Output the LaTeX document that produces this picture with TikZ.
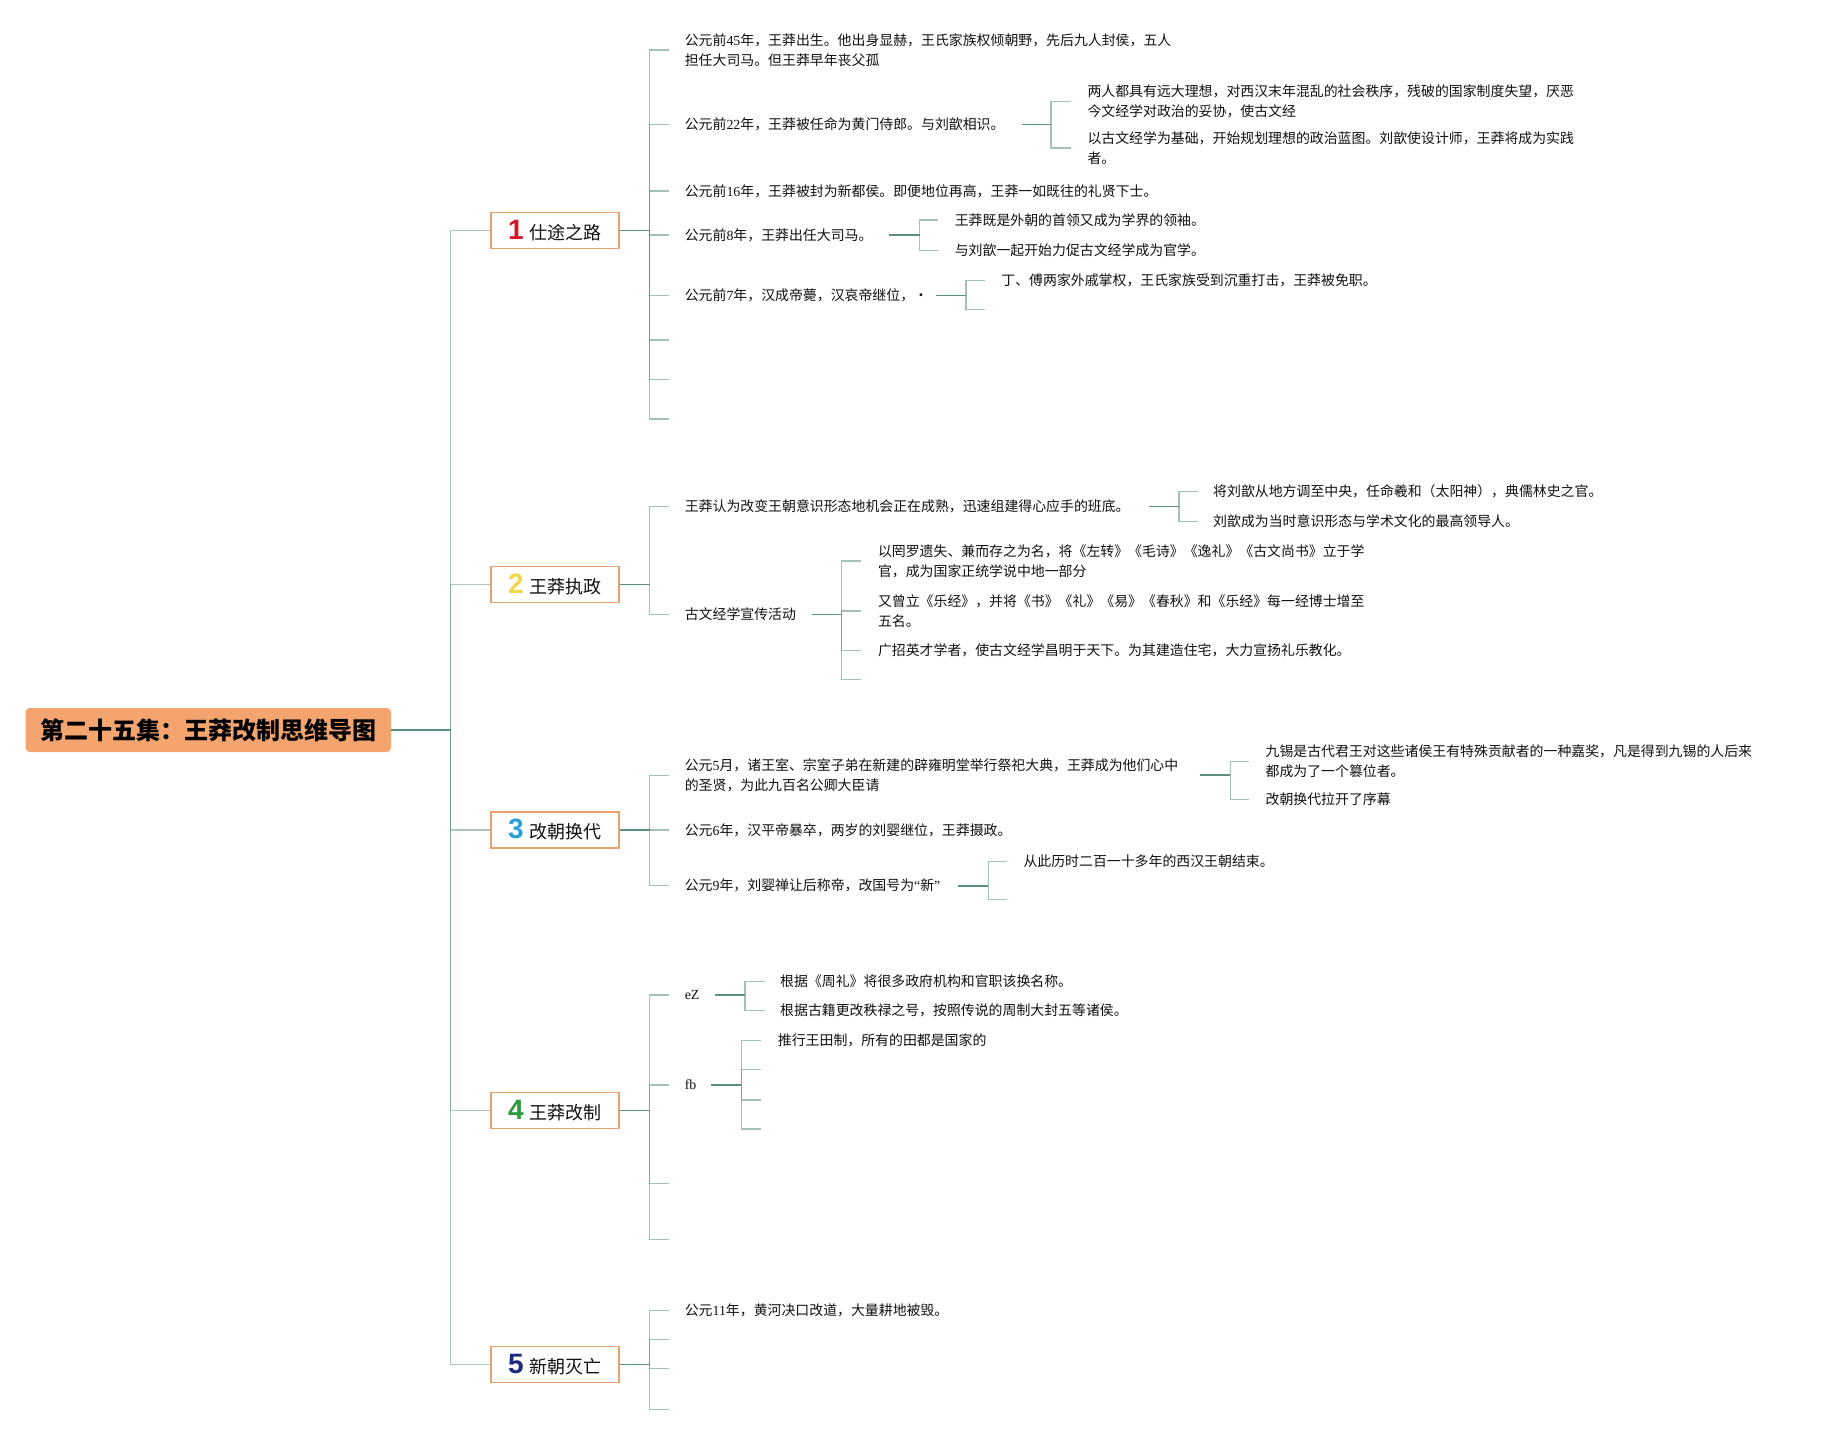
\documentclass[tikz,border=0pt]{standalone}
\usepackage{fontspec}
\setmainfont{Noto Sans CJK SC}
\newfontfamily\latf{Liberation Serif}
\newfontfamily\numf{Liberation Sans}
\newcommand\dg[1]{{\latf #1}}
\newcommand\leaffont{\fontsize{6.95pt}{9.9pt}\selectfont}
\definecolor{linedark}{HTML}{5A8F80}
\definecolor{boxborder}{HTML}{E9A26F}
\definecolor{rootfill}{HTML}{F4A46E}
\definecolor{textc}{HTML}{111111}
\definecolor{nA}{HTML}{D7182A}
\definecolor{nB}{HTML}{F2D64B}
\definecolor{nC}{HTML}{2C9FD9}
\definecolor{nD}{HTML}{2A9A3A}
\definecolor{nE}{HTML}{1E2B7A}
\newcommand\brlabel[3]{\textcolor{#1}{\numf\bfseries\fontsize{14pt}{14pt}\selectfont #2}\hspace{3pt}#3}
\begin{document}
\begin{tikzpicture}[x=0.5pt,y=-0.5pt,
  leaf/.style={anchor=west, align=left, inner sep=0pt, font=\leaffont, text=textc},
  conn/.style={draw=linedark, line width=0.8pt},
  twig/.style={draw=linedark, draw opacity=0.55, line width=0.7pt},
  trunk/.style={draw=linedark, draw opacity=0.5, line width=0.75pt},
  brbox/.style={draw=boxborder, line width=0.7pt, fill=white, minimum width=64pt, minimum height=18pt, inner sep=0pt, font=\fontsize{9pt}{11pt}\selectfont, text=textc},
  rootbox/.style={fill=rootfill, rounded corners=2pt, minimum width=182.7pt, minimum height=22pt, inner sep=0pt, font=\fontsize{12pt}{14pt}\selectfont\bfseries, text=black}]
\fill[white] (0,0) rectangle (1825,1435);
\useasboundingbox (0,0) rectangle (1825,1435);

% root and main branches
\node[rootbox] (root) at (208.3,730) {第二十五集：王莽改制思维导图};
\coordinate (tj) at (450.5,730);
\node[brbox] (b1) at (555,230.5) {\brlabel{nA}{1}{仕途之路}};
\node[brbox] (b2) at (555,584.3) {\brlabel{nB}{2}{王莽执政}};
\node[brbox] (b3) at (555,829.9) {\brlabel{nC}{3}{改朝换代}};
\node[brbox] (b4) at (555,1110.4) {\brlabel{nD}{4}{王莽改制}};
\node[brbox] (b5) at (555,1364.5) {\brlabel{nE}{5}{新朝灭亡}};
\draw[conn] (root.east) -- (tj);
\foreach \b in {b1,b2,b3,b4,b5} {\draw[trunk] (tj) |- (\b.west);}

% ---------- branch 1 ----------
\coordinate (j1) at (649.5,230.5);
\draw[conn] (b1.east) -- (j1);
\foreach \n/\y in {1/50,2/124.5,3/190.9,4/235.1,5/295.6,6/339.9,7/379.4,8/419} {
  \coordinate (j1s\n) at (669.2,\y);
  \draw[twig] (j1) |- (j1s\n);
}
\node[leaf] (t11) at (684.4,50) {公元前\dg{45}年，王莽出生。他出身显赫，王氏家族权倾朝野，先后九人封侯，五人\\担任大司马。但王莽早年丧父孤};
\node[leaf] (t12) at (684.4,124.5) {公元前\dg{22}年，王莽被任命为黄门侍郎。与刘歆相识。};
\node[leaf] (t13) at (684.4,190.9) {公元前\dg{16}年，王莽被封为新都侯。即便地位再高，王莽一如既往的礼贤下士。};
\node[leaf] (t14) at (684.4,235.1) {公元前\dg{8}年，王莽出任大司马。};
\node[leaf] (t15) at (684.4,295.6) {公元前\dg{7}年，汉成帝薨，汉哀帝继位，·};

% 1.2 grandchildren
\coordinate (e12) at (1021.9,124.5);
\coordinate (j12) at (1051,124.5);
\draw[conn] (e12) -- (j12);
\foreach \n/\y in {1/101.3,2/147.8} {
  \coordinate (j12s\n) at (1070.8,\y);
  \draw[twig] (j12) |- (j12s\n);
}
\node[leaf] (t121) at (1087.1,101.3) {两人都具有远大理想，对西汉末年混乱的社会秩序，残破的国家制度失望，厌恶\\今文经学对政治的妥协，使古文经};
\node[leaf] (t122) at (1087.1,147.8) {以古文经学为基础，开始规划理想的政治蓝图。刘歆使设计师，王莽将成为实践\\者。};

% 1.4 grandchildren
\coordinate (e14) at (889.2,235.1);
\coordinate (j14) at (919.5,235.1);
\draw[conn] (e14) -- (j14);
\foreach \n/\y in {1/220,2/250.2} {
  \coordinate (j14s\n) at (938.1,\y);
  \draw[twig] (j14) |- (j14s\n);
}
\node[leaf] (t141) at (954.4,220) {王莽既是外朝的首领又成为学界的领袖。};
\node[leaf] (t142) at (954.4,250.2) {与刘歆一起开始力促古文经学成为官学。};

% 1.5 grandchildren
\coordinate (e15) at (935.8,295.6);
\coordinate (j15) at (966,295.6);
\draw[conn] (e15) -- (j15);
\foreach \n/\y in {1/280.5,2/309.6} {
  \coordinate (j15s\n) at (984.7,\y);
  \draw[twig] (j15) |- (j15s\n);
}
\node[leaf] (t151) at (1001,280.5) {丁、傅两家外戚掌权，王氏家族受到沉重打击，王莽被免职。};

% ---------- branch 2 ----------
\coordinate (j2) at (649.5,584.3);
\draw[conn] (b2.east) -- (j2);
\foreach \n/\y in {1/506.3,2/614.5} {
  \coordinate (j2s\n) at (669.2,\y);
  \draw[twig] (j2) |- (j2s\n);
}
\node[leaf] (t21) at (684.4,506.3) {王莽认为改变王朝意识形态地机会正在成熟，迅速组建得心应手的班底。};
\node[leaf] (t22) at (684.4,614.5) {古文经学宣传活动};

\coordinate (e21) at (1148.8,506.3);
\coordinate (j21) at (1179,506.3);
\draw[conn] (e21) -- (j21);
\foreach \n/\y in {1/491.2,2/521.4} {
  \coordinate (j21s\n) at (1197.7,\y);
  \draw[twig] (j21) |- (j21s\n);
}
\node[leaf] (t211) at (1212.8,491.2) {将刘歆从地方调至中央，任命羲和（太阳神），典儒林史之官。};
\node[leaf] (t212) at (1212.8,521.4) {刘歆成为当时意识形态与学术文化的最高领导人。};

\coordinate (e22) at (812.4,614.5);
\coordinate (j22) at (841.5,614.5);
\draw[conn] (e22) -- (j22);
\foreach \n/\y in {1/561,2/611,3/650.6,4/679.7} {
  \coordinate (j22s\n) at (861.3,\y);
  \draw[twig] (j22) |- (j22s\n);
}
\node[leaf] (t221) at (877.6,561) {以罔罗遗失、兼而存之为名，将《左转》《毛诗》《逸礼》《古文尚书》立于学\\官，成为国家正统学说中地一部分};
\node[leaf] (t222) at (877.6,611) {又曾立《乐经》，并将《书》《礼》《易》《春秋》和《乐经》每一经博士增至\\五名。};
\node[leaf] (t223) at (877.6,650.6) {广招英才学者，使古文经学昌明于天下。为其建造住宅，大力宣扬礼乐教化。};

% ---------- branch 3 ----------
\coordinate (j3) at (649.5,829.9);
\draw[conn] (b3.east) -- (j3);
\foreach \n/\y in {1/775.2,2/829.9,3/885.7} {
  \coordinate (j3s\n) at (669.2,\y);
  \draw[twig] (j3) |- (j3s\n);
}
\node[leaf] (t31) at (684.4,775.2) {公元\dg{5}月，诸王室、宗室子弟在新建的辟雍明堂举行祭祀大典，王莽成为他们心中\\的圣贤，为此九百名公卿大臣请};
\node[leaf] (t32) at (684.4,829.9) {公元\dg{6}年，汉平帝暴卒，两岁的刘婴继位，王莽摄政。};
\node[leaf] (t33) at (684.4,885.7) {公元\dg{9}年，刘婴禅让后称帝，改国号为\dg{“}新\dg{”}};

\coordinate (e31) at (1200,775.2);
\coordinate (j31) at (1230.3,775.2);
\draw[conn] (e31) -- (j31);
\foreach \n/\y in {1/761.2,2/799.6} {
  \coordinate (j31s\n) at (1248.9,\y);
  \draw[twig] (j31) |- (j31s\n);
}
\node[leaf] (t311) at (1265.2,761.2) {九锡是古代君王对这些诸侯王有特殊贡献者的一种嘉奖，凡是得到九锡的人后来\\都成为了一个篡位者。};
\node[leaf] (t312) at (1265.2,799.6) {改朝换代拉开了序幕};

\coordinate (e33) at (957.9,885.7);
\coordinate (j33) at (988.2,885.7);
\draw[conn] (e33) -- (j33);
\foreach \n/\y in {1/861.3,2/899.7} {
  \coordinate (j33s\n) at (1006.8,\y);
  \draw[twig] (j33) |- (j33s\n);
}
\node[leaf] (t331) at (1023.1,861.3) {从此历时二百一十多年的西汉王朝结束。};

% ---------- branch 4 ----------
\coordinate (j4) at (649.5,1110.4);
\draw[conn] (b4.east) -- (j4);
\foreach \n/\y in {1/995.1,2/1084.8,3/1183.7,4/1239.6} {
  \coordinate (j4s\n) at (669.2,\y);
  \draw[twig] (j4) |- (j4s\n);
}
\node[leaf] (t41) at (684.4,995.1) {\dg{eZ}};
\node[leaf] (t42) at (684.4,1084.8) {\dg{fb}};

\coordinate (e41) at (714.6,995.1);
\coordinate (j41) at (744.9,995.1);
\draw[conn] (e41) -- (j41);
\foreach \n/\y in {1/981.2,2/1010.3} {
  \coordinate (j41s\n) at (764.7,\y);
  \draw[twig] (j41) |- (j41s\n);
}
\node[leaf] (t411) at (779.8,981.2) {根据《周礼》将很多政府机构和官职该换名称。};
\node[leaf] (t412) at (779.8,1010.3) {根据古籍更改秩禄之号，按照传说的周制大封五等诸侯。};

\coordinate (e42) at (711.1,1084.8);
\coordinate (j42) at (741.4,1084.8);
\draw[conn] (e42) -- (j42);
\foreach \n/\y in {1/1040.5,2/1069.6,3/1099.9,4/1129} {
  \coordinate (j42s\n) at (761.2,\y);
  \draw[twig] (j42) |- (j42s\n);
}
\node[leaf] (t421) at (777.5,1040.5) {推行王田制，所有的田都是国家的};

% ---------- branch 5 ----------
\coordinate (j5) at (649.5,1364.5);
\draw[conn] (b5.east) -- (j5);
\foreach \n/\y in {1/1310.5,2/1339.7,3/1368.7,4/1409.5} {
  \coordinate (j5s\n) at (669.2,\y);
  \draw[twig] (j5) |- (j5s\n);
}
\node[leaf] (t51) at (684.4,1310.5) {公元\dg{11}年，黄河决口改道，大量耕地被毁。};
\end{tikzpicture}
\end{document}
